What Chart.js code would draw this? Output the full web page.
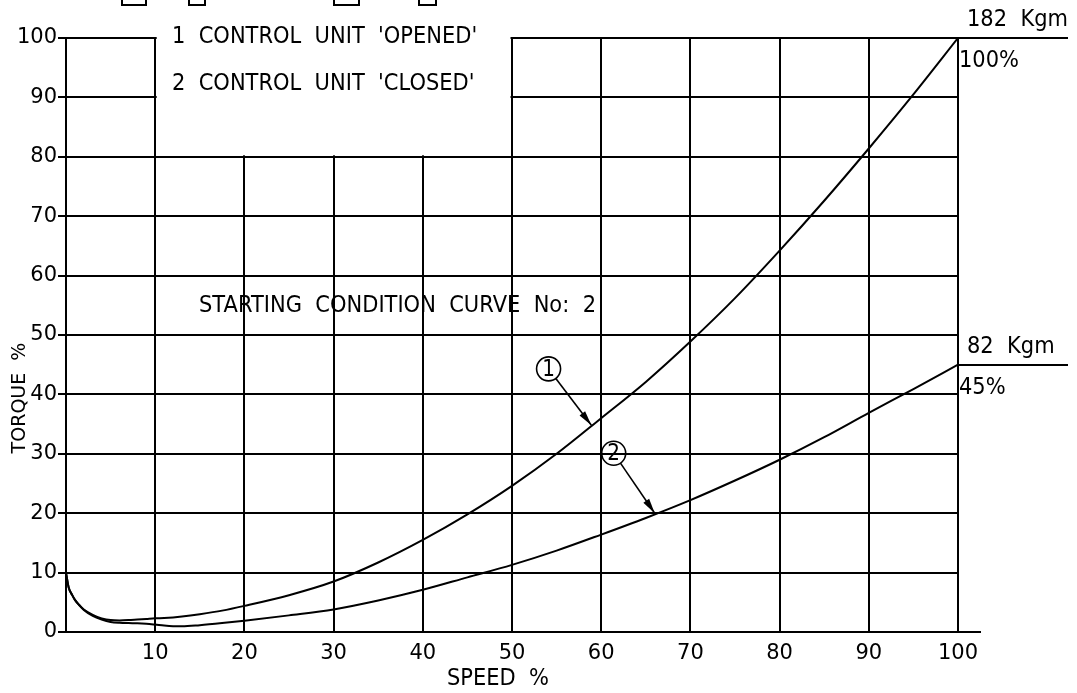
<!DOCTYPE html>
<html>
<head>
<meta charset="utf-8">
<script src="https://cdn.jsdelivr.net/npm/chart.js@4/dist/chart.umd.min.js"></script>
<style>
  html, body { margin: 0; padding: 0; background: #fff; }
  #wrap { width: 1077px; height: 693px; }
</style>
</head>
<body>
<div id="wrap"><canvas id="chartTorque" width="1077" height="693"></canvas></div>
<script>
// speed % (x axis)
var speed = [0, 0.3, 0.7, 1, 1.5, 2, 3, 4, 5, 6, 7, 8, 9, 10, 11, 12, 13, 15, 17.5, 20,
  25, 30, 35, 40, 45, 50, 55, 60, 65, 70, 75, 80, 85, 90, 95, 100];

// torque % - curve 1, control unit opened
var torqueOpened = [10, 7.5, 6.2, 5.4, 4.5, 3.8, 2.9, 2.3, 2.0, 1.95, 2.0, 2.1, 2.2, 2.3, 2.35, 2.45, 2.6, 3.0, 3.6, 4.4,
  6.2, 8.5, 11.7, 15.5, 19.8, 24.6, 30.0, 36.0, 42.1, 48.9, 56.2, 64.2, 72.6, 81.4, 90.5, 100];

// torque % - curve 2, control unit closed
var torqueClosed = [10, 7.5, 6.2, 5.4, 4.5, 3.7, 2.7, 2.1, 1.7, 1.55, 1.5, 1.48, 1.4, 1.25, 1.08, 0.97, 0.95, 1.15, 1.5, 1.9,
  2.8, 3.8, 5.3, 7.1, 9.2, 11.3, 13.7, 16.4, 19.2, 22.2, 25.5, 29.0, 32.8, 36.9, 40.9, 45];

var legendLines = ["1  CONTROL  UNIT  'OPENED'", "2  CONTROL  UNIT  'CLOSED'"];
var noteText = 'STARTING  CONDITION  CURVE  No:  2';
var xTitle = 'SPEED  %';
var yTitle = 'TORQUE  %';
// end values of each curve
var endLabels = [
  { value: 100, kgm: '182  Kgm', pct: '100%' },
  { value: 45, kgm: '82  Kgm', pct: '45%' }
];
// curve callouts: circle position and arrow tip (data units)
var callouts = [
  { num: '1', cx: 54.1, cy: 44.3, tx: 58.9, ty: 34.8 },
  { num: '2', cx: 61.4, cy: 30.1, tx: 66.0, ty: 20.0 }
];

function toPoints(xs, ys) {
  return xs.map(function (x, i) { return { x: x, y: ys[i] }; });
}

var FONT = '"DejaVu Sans", sans-serif';

// text slightly stretched in height, like the drafting font
function tallText(ctx, text, x, y) {
  ctx.save();
  ctx.translate(x, y);
  ctx.scale(1, 1.12);
  ctx.fillText(text, 0, 0);
  ctx.restore();
}

var drawingPlugin = {
  id: 'drawing',
  beforeDatasetsDraw: function (chart) {
    var ctx = chart.ctx;
    var xs = chart.scales.x, ys = chart.scales.y;
    ctx.save();
    // blank panel for the legend text
    ctx.fillStyle = '#fff';
    ctx.fillRect(xs.getPixelForValue(10) + 1.5, ys.getPixelForValue(100) - 3,
      xs.getPixelForValue(50) - xs.getPixelForValue(10) - 3,
      ys.getPixelForValue(80) - ys.getPixelForValue(100) + 1.5);
    ctx.strokeStyle = '#000';
    ctx.lineWidth = 2;
    // extension lines on the right
    endLabels.forEach(function (e) {
      var y = Math.round(ys.getPixelForValue(e.value));
      ctx.beginPath();
      ctx.moveTo(xs.getPixelForValue(100), y);
      ctx.lineTo(1068, y);
      ctx.stroke();
    });
    // x axis extension
    var yb = Math.round(ys.getPixelForValue(0));
    ctx.beginPath();
    ctx.moveTo(xs.getPixelForValue(100), yb);
    ctx.lineTo(981, yb);
    ctx.stroke();
    // partially cut boxes at the top edge
    [[122, 24], [189, 16], [334, 25], [419, 17]].forEach(function (b) {
      ctx.strokeRect(b[0], -12, b[1], 17);
    });
    ctx.restore();
  },
  afterDatasetsDraw: function (chart) {
    var ctx = chart.ctx;
    var xs = chart.scales.x, ys = chart.scales.y;
    ctx.save();
    ctx.fillStyle = '#000';
    ctx.strokeStyle = '#000';
    ctx.textBaseline = 'middle';
    ctx.font = '21px ' + FONT;
    ctx.textAlign = 'left';
    tallText(ctx, legendLines[0], 172, 37);
    tallText(ctx, legendLines[1], 172, 84);
    tallText(ctx, noteText, 199, 306);
    // end labels
    endLabels.forEach(function (e) {
      var y = ys.getPixelForValue(e.value);
      tallText(ctx, e.kgm, 967, y - 18);
      tallText(ctx, e.pct, 959, y + 23);
    });
    // axis titles
    ctx.textAlign = 'center';
    tallText(ctx, xTitle, 498, 679);
    ctx.save();
    ctx.font = '19px ' + FONT;
    ctx.translate(20, 398);
    ctx.rotate(-Math.PI / 2);
    ctx.fillText(yTitle, 0, 0);
    ctx.restore();
    // callouts
    callouts.forEach(function (c) {
      var cx = xs.getPixelForValue(c.cx), cy = ys.getPixelForValue(c.cy);
      var tx = xs.getPixelForValue(c.tx), ty = ys.getPixelForValue(c.ty);
      var r = 12;
      ctx.lineWidth = 1.6;
      ctx.beginPath();
      ctx.arc(cx, cy, r, 0, Math.PI * 2);
      ctx.stroke();
      ctx.font = '20px ' + FONT;
      tallText(ctx, c.num, cx, cy + 1);
      var ang = Math.atan2(ty - cy, tx - cx);
      var sx = cx + r * Math.cos(ang), sy = cy + r * Math.sin(ang);
      ctx.beginPath();
      ctx.moveTo(sx, sy);
      ctx.lineTo(tx, ty);
      ctx.stroke();
      var L = 15, W = 3.5;
      ctx.beginPath();
      ctx.moveTo(tx, ty);
      ctx.lineTo(tx - L * Math.cos(ang) + W * Math.sin(ang), ty - L * Math.sin(ang) - W * Math.cos(ang));
      ctx.lineTo(tx - L * Math.cos(ang) - W * Math.sin(ang), ty - L * Math.sin(ang) + W * Math.cos(ang));
      ctx.closePath();
      ctx.fill();
    });
    ctx.restore();
  }
};

var ctxTorque = document.getElementById('chartTorque').getContext('2d');
var chartTorque = new Chart(ctxTorque, {
  type: 'line',
  data: {
    datasets: [{
      label: "CONTROL UNIT 'OPENED'",
      data: toPoints(speed, torqueOpened),
      borderColor: '#000',
      borderWidth: 2,
      pointRadius: 0,
      cubicInterpolationMode: 'monotone',
      fill: false
    }, {
      label: "CONTROL UNIT 'CLOSED'",
      data: toPoints(speed, torqueClosed),
      borderColor: '#000',
      borderWidth: 2,
      pointRadius: 0,
      cubicInterpolationMode: 'monotone',
      fill: false
    }]
  },
  options: {
    responsive: false,
    animation: false,
    devicePixelRatio: 1,
    layout: { padding: { left: 0, right: 119, top: 38, bottom: 0 } },
    plugins: { legend: { display: false }, tooltip: { enabled: false } },
    scales: {
      x: {
        type: 'linear', min: 0, max: 100,
        afterFit: function (s) { s.height = 61; },
        border: { color: '#000', width: 2 },
        grid: { color: '#000', lineWidth: 2, drawTicks: false },
        ticks: {
          stepSize: 10, color: '#000', padding: 9, maxRotation: 0,
          font: { family: FONT, size: 21 },
          callback: function (v) { return v === 0 ? '' : v; }
        }
      },
      y: {
        min: 0, max: 100,
        afterFit: function (s) { s.width = 66; },
        border: { color: '#000', width: 2 },
        grid: { color: '#000', lineWidth: 2, tickLength: 8 },
        ticks: {
          stepSize: 10, color: '#000', padding: 1,
          font: { family: FONT, size: 21 }
        }
      }
    }
  },
  plugins: [drawingPlugin]
});
</script>
</body>
</html>
